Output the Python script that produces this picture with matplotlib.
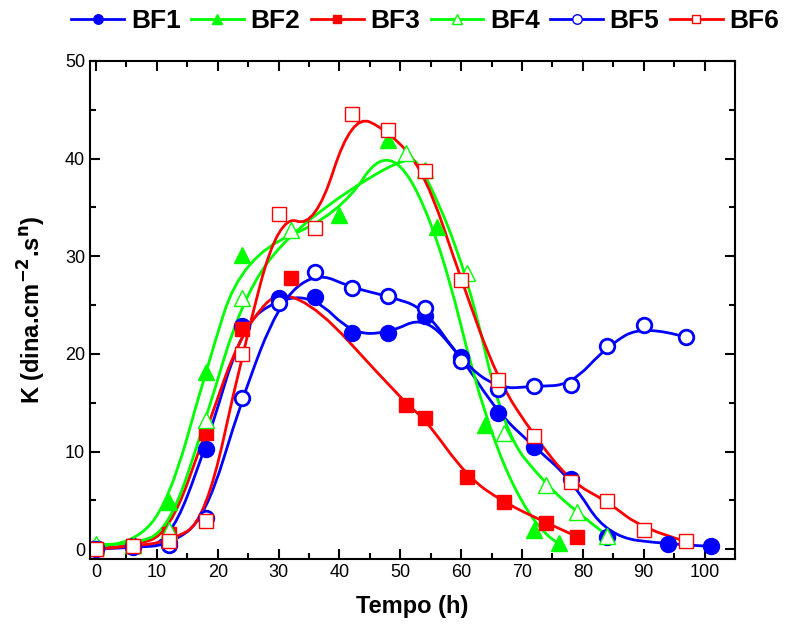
import matplotlib.pyplot as plt
from matplotlib.path import Path
from matplotlib.patches import PathPatch
from matplotlib.lines import Line2D
from matplotlib.ticker import MultipleLocator

plt.rcParams['font.family'] = ['Liberation Sans', 'DejaVu Sans']

# data
bf1_x = [0, 6, 12, 18, 24, 30, 36, 42, 48, 54, 60, 66, 72, 78, 84, 94, 101]
bf1_y = [0.1, 0.3, 0.6, 10.3, 22.9, 25.7, 25.8, 22.1, 22.1, 23.9, 19.7, 14.0, 10.5, 7.2, 1.3, 0.5, 0.3]

bf2_x = [0, 6, 12, 18, 24, 40, 48, 56, 64, 72, 76]
bf2_y = [0.3, 0.4, 4.8, 18.2, 30.1, 34.2, 41.9, 33.0, 12.7, 2.0, 0.6]

bf3_x = [0, 6, 12, 18, 24, 32, 51, 54, 61, 67, 74, 79]
bf3_y = [0.0, 0.3, 1.6, 11.9, 22.6, 27.8, 14.8, 13.4, 7.4, 4.8, 2.7, 1.3]

bf4_x = [0, 6, 12, 18, 24, 32, 51, 54, 61, 67, 74, 79, 84]
bf4_y = [0.5, 0.4, 2.0, 13.2, 25.7, 32.7, 40.6, 38.8, 28.3, 11.9, 6.6, 3.8, 1.4]

bf5_x = [0, 6, 12, 18, 24, 30, 36, 42, 48, 54, 60, 66, 72, 78, 84, 90, 97]
bf5_y = [0.0, 0.2, 0.4, 3.2, 15.5, 25.2, 28.4, 26.8, 25.9, 24.7, 19.3, 16.4, 16.7, 16.8, 20.8, 23.0, 21.7]

bf6_x = [0, 6, 12, 18, 24, 30, 36, 42, 48, 54, 60, 66, 72, 78, 84, 90, 97]
bf6_y = [0.0, 0.3, 0.8, 2.9, 20.0, 34.3, 32.9, 44.6, 42.9, 38.7, 27.6, 17.3, 11.6, 6.9, 4.9, 2.0, 0.8]

names = ['BF1', 'BF2', 'BF3', 'BF4', 'BF5', 'BF6']
colors = ['#0000FF', '#00FF00', '#FF0000', '#00FF00', '#0000FF', '#FF0000']
markers = ['o', '^', 's', '^', 'o', 's']
filled = [True, True, True, False, False, False]
msizes = [10.5, 12, 9.5, 12, 10.5, 9.5]
series = [(bf1_x, bf1_y), (bf2_x, bf2_y), (bf3_x, bf3_y),
          (bf4_x, bf4_y), (bf5_x, bf5_y), (bf6_x, bf6_y)]


def bspline_path(xs, ys):
    # clamped quadratic B-spline using the data points as control points
    pts = list(zip(xs, ys))
    verts = [pts[0]]
    codes = [Path.MOVETO]
    n = len(pts)
    for i in range(1, n - 1):
        verts.append(pts[i])
        if i < n - 2:
            verts.append(((pts[i][0] + pts[i + 1][0]) / 2, (pts[i][1] + pts[i + 1][1]) / 2))
        else:
            verts.append(pts[-1])
        codes += [Path.CURVE3, Path.CURVE3]
    return Path(verts, codes)


fig = plt.figure(figsize=(7.92, 6.34), dpi=100)
ax = fig.add_axes([0.1136, 0.1183, 0.8144, 0.7855])

handles = []
for (xs, ys), name, c, m, f, ms in zip(series, names, colors, markers, filled, msizes):
    ax.add_patch(PathPatch(bspline_path(xs, ys), facecolor='none', edgecolor=c, lw=2.0))
    mew = 2.0 if m == 'o' else 1.0
    ax.plot(xs, ys, ls='none', marker=m, ms=ms, color=c,
            mfc=c if f else 'white', mec=c, mew=mew)
    handles.append(Line2D([], [], color=c, lw=2.0, marker=m, ms=ms * 0.65,
                          mfc=c if f else 'white', mec=c, mew=1.0, label=name))

ax.set_xlim(-1, 105)
ax.set_ylim(-1, 50)
ax.xaxis.set_major_locator(MultipleLocator(10))
ax.xaxis.set_minor_locator(MultipleLocator(5))
ax.yaxis.set_major_locator(MultipleLocator(10))
ax.yaxis.set_minor_locator(MultipleLocator(5))
ax.tick_params(which='both', direction='in', top=True, right=True, width=1.5, labelsize=13)
ax.tick_params(which='major', length=7)
ax.tick_params(which='minor', length=4)
for s in ax.spines.values():
    s.set_linewidth(1.5)

ax.set_xlabel('Tempo (h)', fontsize=17, fontweight='bold', labelpad=10)
ax.set_ylabel('K (dina.cm$^{\\mathbf{-2}}$.s$^{\\mathbf{n}}$)', fontsize=17, fontweight='bold', labelpad=12)

fig.legend(handles=handles, loc='center', bbox_to_anchor=(0.537, 0.967), ncol=6,
           frameon=False, prop={'weight': 'bold', 'size': 19},
           handlelength=2.0, handletextpad=0.25, columnspacing=0.4,
           borderpad=0.0, borderaxespad=0.0)

fig.savefig('out.png', dpi=100)
